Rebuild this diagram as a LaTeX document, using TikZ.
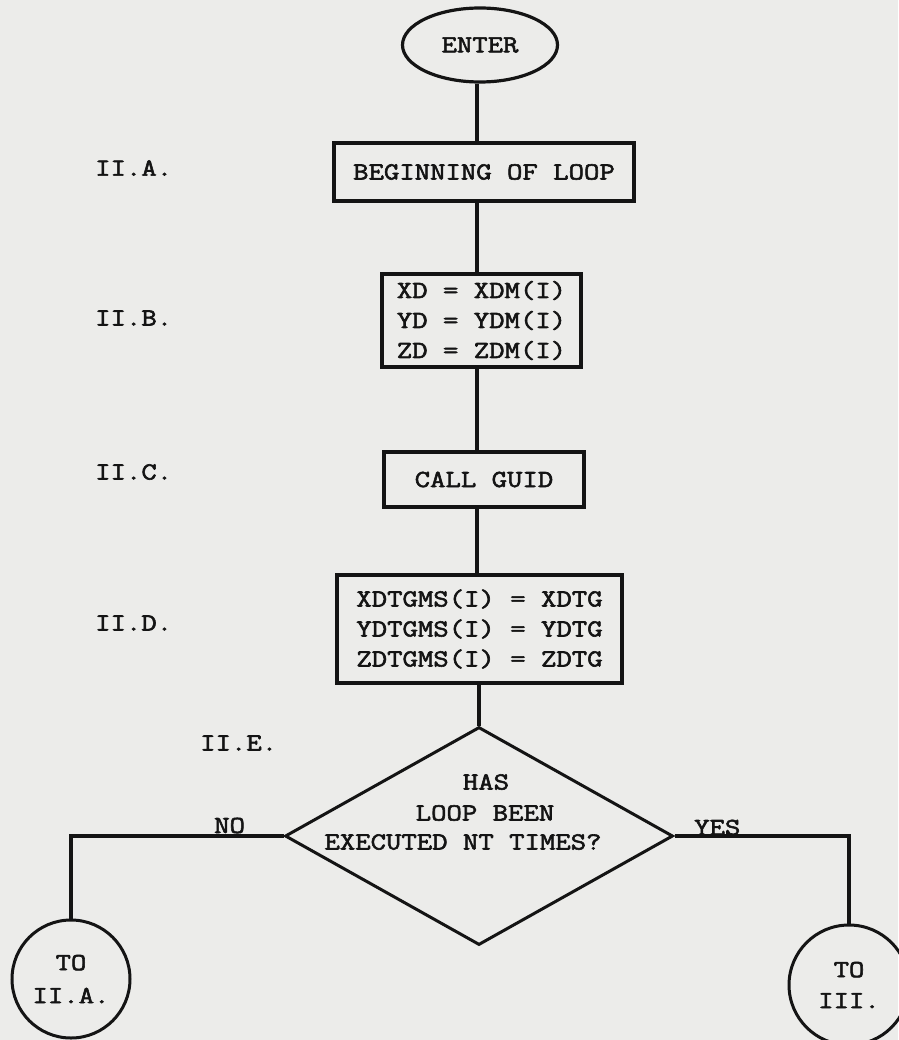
\documentclass[tikz,border=0pt]{standalone}
\usepackage{fontspec}
\newfontfamily\tw[FakeStretch=1.22,FakeBold=2.4]{Latin Modern Mono}
\usetikzlibrary{shapes.geometric}
\definecolor{ink}{RGB}{20,20,20}
\definecolor{paper}{RGB}{236,236,234}
\tikzset{
  ln/.style={draw=ink, line width=3.2pt},
  txt/.style={font=\tw\fontsize{24.5}{30}\selectfont, text=ink, inner sep=0pt, align=center},
  box/.style={txt, draw=ink, line width=3.2pt, rectangle},
  oval/.style={txt, draw=ink, line width=3.2pt, ellipse},
  circ/.style={txt, draw=ink, line width=3pt, circle},
  dia/.style={draw=ink, line width=3pt, diamond, inner sep=0pt},
}
\begin{document}
\begin{tikzpicture}[x=1pt,y=-1pt]
\fill[paper] (0,0) rectangle (898,1040);
\useasboundingbox (0,0) rectangle (898,1040);
\coordinate (spine) at (477,0);
% nodes
\node[oval, minimum width=155, minimum height=74] (enter) at (480,45) {ENTER};
\node[box, minimum width=300, minimum height=58] (begin) at (484,172) {BEGINNING OF LOOP};
\node[box, minimum width=199, minimum height=93] (xd) at (481.5,320.5) {XD = XDM(I)\\YD = YDM(I)\\ZD = ZDM(I)};
\node[box, minimum width=200, minimum height=55] (call) at (484,479.5) {CALL GUID};
\node[box, minimum width=285, minimum height=108] (xdtg) at (479.5,629) {XDTGMS(I) = XDTG\\YDTGMS(I) = YDTG\\ZDTGMS(I) = ZDTG};
\node[dia, minimum width=388, minimum height=218] (dec) at (479,836) {};
\node[txt] (d1) at (486,782) {HAS};
\node[txt] (d2) at (485,813) {LOOP BEEN};
\node[txt] (d3) at (463,842) {EXECUTED NT TIMES?};
\node[circ, minimum size=118] (toia) at (71,979) {TO\\[3pt]II.A.};
\node[circ, minimum size=120] (toiii) at (849,985) {TO\\[1pt]III.};
% side labels
\node[txt, anchor=west] (la) at (95,168) {II.A.};
\node[txt, anchor=west] (lb) at (95,318) {II.B.};
\node[txt, anchor=west] (lc) at (95,472) {II.C.};
\node[txt, anchor=west] (ld) at (95,623) {II.D.};
\node[txt, anchor=west] (le) at (200,743) {II.E.};
% connectors
\draw[ln] (spine |- enter.south) -- (spine |- begin.north);
\draw[ln] (spine |- begin.south) -- (spine |- xd.north);
\draw[ln] (spine |- xd.south) -- (spine |- call.north);
\draw[ln] (spine |- call.south) -- (spine |- xdtg.north);
\draw[ln] (xdtg.south -| dec.north) -- (dec.north);
\draw[ln] (dec.west) -| (toia.north);
\draw[ln] (dec.east) -| (toiii.north);
\node[txt, anchor=base west] (no) at (214,833) {NO};
\node[txt, anchor=base west] (yes) at (694,835) {YES};
\end{tikzpicture}
\end{document}
